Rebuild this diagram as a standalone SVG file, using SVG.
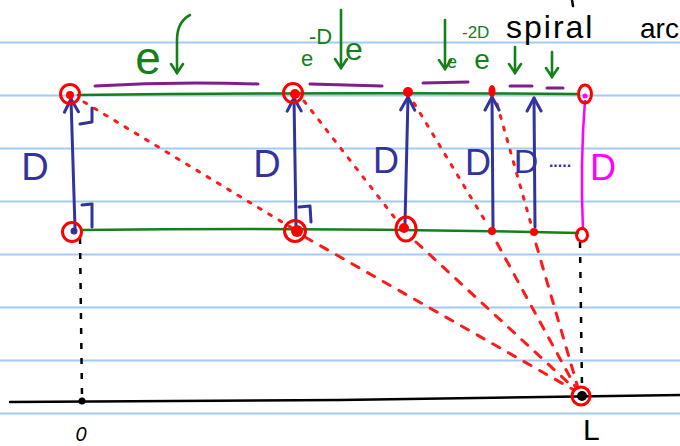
<svg xmlns="http://www.w3.org/2000/svg" width="680" height="446" viewBox="0 0 680 446">
<style>
.rule{stroke:#a3cbf3;stroke-width:2.2;fill:none}
.grn{stroke:#13801a;stroke-width:2.6;fill:none;stroke-linecap:round}
.pur{stroke:#7f1f8c;stroke-width:3;fill:none;stroke-linecap:round}
.blu{stroke:#33339c;stroke-width:3;fill:none;stroke-linecap:round;stroke-linejoin:round}
.red{stroke:#ff0000;stroke-width:3;fill:none}
.redf{fill:#ff0000}
.dot{stroke:#ff1a1a;stroke-width:3;fill:none;stroke-dasharray:3 9;stroke-linecap:round}
.dash{stroke:#ff1a1a;stroke-width:3;fill:none;stroke-dasharray:8 10;stroke-linecap:round}
.blk{stroke:#000;stroke-width:2.5;fill:none;stroke-linecap:round}
.bdash{stroke:#000;stroke-width:2.5;fill:none;stroke-dasharray:6 9}
.tb{font-family:"Liberation Sans",Arial,sans-serif;fill:#33339c}
.tg{font-family:"Liberation Sans",Arial,sans-serif;fill:#13801a}
.tk{font-family:"Liberation Sans",Arial,sans-serif;fill:#000}
</style>
<defs>
<marker id="ah" viewBox="0 0 20 20" refX="18" refY="10" markerWidth="20" markerHeight="20" markerUnits="userSpaceOnUse" orient="auto">
<path d="M5,3 L18,10 L5,17" fill="none" stroke="#33339c" stroke-width="3" stroke-linecap="round" stroke-linejoin="round"/>
</marker>
<marker id="gh" viewBox="0 0 16 16" refX="8" refY="14" markerWidth="16" markerHeight="16" markerUnits="userSpaceOnUse" orient="0">
<path d="M2,5 L8,14 L14,5" fill="none" stroke="#13801a" stroke-width="2.6" stroke-linecap="round"/>
</marker>
</defs>
<rect width="680" height="446" fill="#fff"/>
<g id="paper">
<line class="rule" x1="0" y1="42.5" x2="680" y2="42.5"/>
<line class="rule" x1="0" y1="95.5" x2="680" y2="95.5"/>
<line class="rule" x1="0" y1="148.5" x2="680" y2="148.5"/>
<line class="rule" x1="0" y1="201.5" x2="680" y2="201.5"/>
<line class="rule" x1="0" y1="254.5" x2="680" y2="254.5"/>
<line class="rule" x1="0" y1="307.5" x2="680" y2="307.5"/>
<line class="rule" x1="0" y1="360.5" x2="680" y2="360.5"/>
<line class="rule" x1="0" y1="413.5" x2="680" y2="413.5"/>
</g>
<g id="connectors">
<path class="grn" d="M78,95 Q330,92 578,94"/>
<path class="grn" d="M82,230 Q330,227 578,233"/>
<path class="blk" d="M10,402 L340,400 L680,395"/>
<line class="bdash" x1="80" y1="238" x2="82" y2="398"/>
<line class="bdash" x1="580" y1="242" x2="582" y2="388"/>
<path class="pur" d="M95,86 Q175,81 258,84"/>
<path class="pur" d="M310,84 L382,86"/>
<path class="pur" d="M423,83 L468,82"/>
<path class="pur" d="M510,86 L532,86"/>
<path class="pur" d="M547,88 L563,88"/>
<path class="dot" d="M84,102 L292,228"/>
<path class="dash" d="M305,237 L574,390"/>
<path class="dot" d="M304,101 L398,222"/>
<path class="dash" d="M416,242 L574,388"/>
<path class="dot" d="M414,103 L487,224"/>
<path class="dash" d="M497,243 L576,388"/>
<path class="dot" d="M497,104 L531,224"/>
<path class="dash" d="M536,244 L578,388"/>
<line class="blu" x1="75" y1="228" x2="71" y2="99" marker-end="url(#ah)"/>
<line class="blu" x1="296" y1="226" x2="294" y2="98" marker-end="url(#ah)"/>
<line class="blu" x1="405" y1="223" x2="408" y2="97" marker-end="url(#ah)"/>
<line class="blu" x1="493" y1="227" x2="492" y2="97" marker-end="url(#ah)"/>
<line class="blu" x1="535" y1="227" x2="534" y2="98" marker-end="url(#ah)"/>
<path d="M585,100 Q580,165 583,230" stroke="#ff00ff" stroke-width="2.5" fill="none"/>
<path class="blu" d="M92,108 L92,122 L80,124" stroke-width="2.5"/>
<path class="blu" d="M82,205 L92,204 L92,227" stroke-width="2.5"/>
<path class="blu" d="M299,207 L310,206 L311,222" stroke-width="2.5"/>
<path class="grn" d="M190,15 Q177,22 177,40 L177,73" marker-end="url(#gh)"/>
<line class="grn" x1="341" y1="10" x2="341" y2="68" marker-end="url(#gh)"/>
<line class="grn" x1="445" y1="20" x2="445" y2="69" marker-end="url(#gh)"/>
<line class="grn" x1="515" y1="47" x2="515" y2="73" marker-end="url(#gh)"/>
<line class="grn" x1="552" y1="52" x2="552" y2="77" marker-end="url(#gh)"/>
<line class="blk" x1="572" y1="0" x2="573" y2="6"/>
</g>
<g id="p-top-0"><circle class="red" cx="70" cy="94" r="9.5"/><circle class="redf" cx="70" cy="95" r="4"/></g>
<g id="p-bot-0"><circle class="red" cx="72" cy="232" r="9.5"/><circle cx="74" cy="231" r="3.5" fill="#33339c"/></g>
<g id="p-top-1"><circle class="red" cx="293" cy="93" r="9.5"/><circle class="redf" cx="295" cy="94" r="5"/></g>
<g id="p-bot-1"><circle class="red" cx="295" cy="231" r="10.5"/><circle class="redf" cx="297" cy="231" r="6"/></g>
<g id="p-top-2"><circle class="redf" cx="408" cy="92" r="5"/></g>
<g id="p-bot-2"><ellipse class="red" cx="406" cy="229" rx="10" ry="12"/><circle class="redf" cx="404" cy="228" r="5"/></g>
<g id="p-top-3"><ellipse class="redf" cx="492" cy="91" rx="3.5" ry="6"/></g>
<g id="p-bot-3"><circle class="redf" cx="492" cy="231" r="4"/></g>
<g id="p-bot-4"><circle class="redf" cx="534" cy="232" r="4"/></g>
<g id="p-top-5"><ellipse class="red" cx="585" cy="94" rx="6.5" ry="9"/><circle cx="585" cy="96" r="2.5" fill="#ff00ff"/></g>
<g id="p-bot-5"><ellipse class="red" cx="582" cy="235" rx="5.5" ry="6.5"/></g>
<g id="p-origin"><circle cx="82" cy="401" r="3.5" fill="#000"/></g>
<g id="p-L"><circle cx="582" cy="396" r="5" fill="#000"/><circle class="red" cx="581" cy="396" r="9"/></g>
<g id="labels">
<text class="tb" x="35" y="180" font-size="38" text-anchor="middle">D</text>
<text class="tb" x="267" y="177" font-size="38" text-anchor="middle">D</text>
<text class="tb" x="386" y="173" font-size="36" text-anchor="middle">D</text>
<text class="tb" x="478" y="175" font-size="36" text-anchor="middle">D</text>
<text class="tb" x="526" y="173" font-size="34" text-anchor="middle">D</text>
<text class="tb" x="560" y="167" font-size="16" font-weight="bold" text-anchor="middle">.....</text>
<text x="603" y="180" font-size="36" text-anchor="middle" font-family="Liberation Sans,Arial,sans-serif" fill="#ff00ff">D</text>
<text class="tg" x="148" y="74" font-size="46" text-anchor="middle">e</text>
<text class="tg" x="307" y="66" font-size="22" text-anchor="middle">e</text>
<text class="tg" x="309" y="44" font-size="22">-D</text>
<text class="tg" x="354" y="60" font-size="32" text-anchor="middle">e</text>
<text class="tg" x="452" y="68" font-size="18" text-anchor="middle">e</text>
<text class="tg" x="462" y="38" font-size="17">-2D</text>
<text class="tg" x="482" y="69" font-size="28" text-anchor="middle">e</text>
<text class="tk" x="506" y="38" font-size="32" letter-spacing="2">spiral</text>
<text class="tk" x="640" y="38" font-size="28">arc</text>
<text class="tk" x="81" y="441" font-size="20" text-anchor="middle" font-style="italic">0</text>
<text class="tk" x="583" y="440" font-size="30">L</text>
</g>
</svg>
